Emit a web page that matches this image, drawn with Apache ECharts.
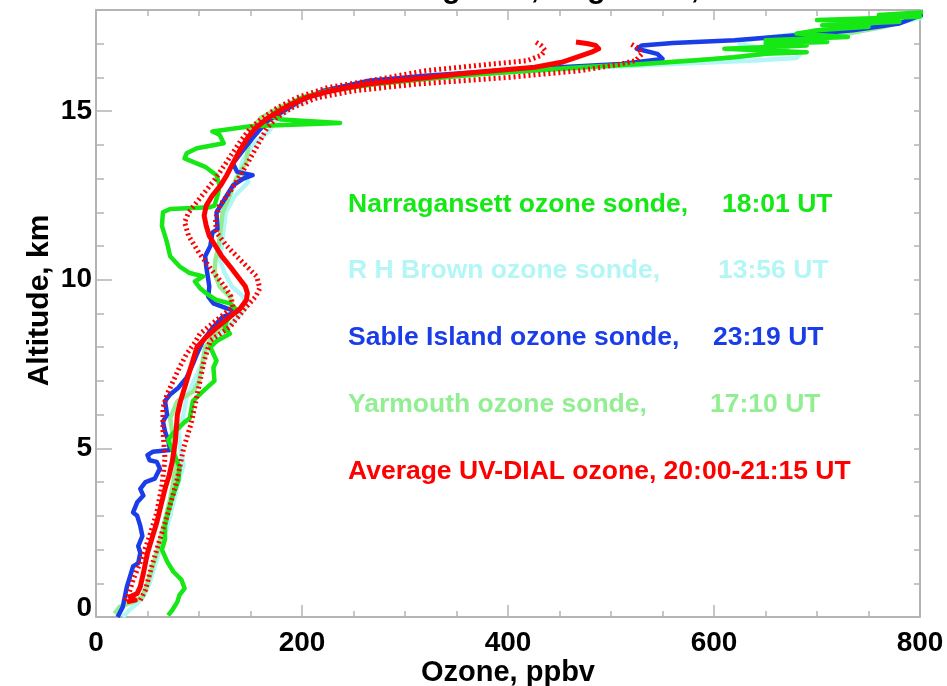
<!DOCTYPE html>
<html>
<head>
<meta charset="utf-8">
<script src="https://cdn.jsdelivr.net/npm/echarts@6/dist/echarts.min.js"></script>
<style>
  html, body { margin: 0; padding: 0; background: #ffffff; }
  #chart { width: 947px; height: 686px; }
</style>
</head>
<body>
<div id="chart"></div>
<script>
// Ozone profiles: altitude (km) and ozone mixing ratio (ppbv) for each sounding

const narragansettKm = [0.05, 0.2, 0.45, 0.65, 0.85, 1.1, 1.35, 1.65, 2.0, 2.3, 2.7, 3.1, 3.55, 4.05, 4.45, 4.75, 5.25, 5.45, 5.75, 5.9, 6.4, 6.7, 7.0, 7.4, 7.6, 8.0, 8.2, 8.4, 8.6, 8.8, 9.1, 9.3, 9.4, 9.6, 9.75, 9.95, 10.1, 10.2, 10.4, 10.7, 11.1, 11.6, 12.0, 12.1, 12.15, 12.2, 12.5, 12.8, 13.1, 13.35, 13.6, 13.75, 13.9, 14.05, 14.3, 14.4, 14.55, 14.65, 14.75, 14.85, 15.0, 15.2, 15.4, 15.6, 15.8, 15.95, 16.1, 16.2, 16.3, 16.4, 16.5, 16.6, 16.7, 16.75, 16.85, 16.95, 17.0, 17.05, 17.1, 17.2, 17.3, 17.4, 17.5, 17.55, 17.65, 17.7, 17.8, 17.85, 17.95];
const narragansettPpbv = [70, 74, 79, 81, 86, 83, 75, 69, 64, 67, 67, 70, 74, 80, 81, 77, 70, 75, 85, 91, 94, 104, 115, 114, 117, 111, 118, 130, 125, 127, 137, 130, 117, 107, 101, 96, 104, 91, 81, 72, 69, 64, 65, 72, 110, 115, 118, 120, 117, 106, 86, 88, 98, 124, 120, 113, 150, 237, 180, 170, 175, 188, 200, 225, 270, 320, 375, 420, 470, 530, 580, 620, 650, 690, 610, 690, 650, 710, 650, 730, 680, 700, 750, 705, 780, 700, 800, 760, 810];

const rhBrownKm = [0.0, 0.2, 0.4, 0.6, 1.0, 1.5, 2.0, 2.5, 3.0, 3.5, 4.0, 4.5, 5.0, 5.5, 6.0, 6.5, 7.0, 7.5, 8.0, 8.5, 8.9, 9.2, 9.5, 9.8, 10.2, 10.6, 11.0, 11.5, 12.0, 12.5, 12.9, 13.2, 13.5, 14.0, 14.4, 14.8, 15.1, 15.4, 15.7, 15.95, 16.1, 16.2, 16.3, 16.4, 16.5, 16.58, 16.7, 16.8, 16.9, 17.0, 17.1, 17.25, 17.45, 17.65, 17.85];
const rhBrownPpbv = [26, 32, 40, 46, 52, 57, 62, 67, 72, 76, 80, 85, 82, 80, 85, 88, 95, 103, 110, 125, 138, 146, 143, 132, 125, 120, 122, 124, 126, 135, 148, 140, 142, 152, 168, 176, 190, 210, 245, 310, 370, 430, 490, 560, 640, 680, 684, 665, 640, 625, 630, 670, 730, 785, 810];

const sableKm = [0.0, 0.3, 0.6, 0.9, 1.2, 1.5, 1.6, 1.9, 2.1, 2.4, 2.7, 3.0, 3.1, 3.4, 3.6, 3.8, 4.0, 4.1, 4.4, 4.6, 4.65, 4.8, 4.9, 4.95, 5.25, 5.5, 5.8, 6.0, 6.4, 6.6, 6.8, 7.1, 7.5, 7.8, 8.2, 8.6, 8.9, 9.05, 9.15, 9.3, 9.5, 9.8, 10.0, 10.4, 10.7, 11.0, 11.4, 11.5, 12.0, 12.3, 12.5, 12.8, 13.0, 13.1, 13.2, 13.45, 13.85, 14.2, 14.7, 15.0, 15.3, 15.6, 15.9, 16.05, 16.2, 16.3, 16.4, 16.55, 16.7, 16.85, 16.95, 17.02, 17.1, 17.25, 17.4, 17.6, 17.9];
const sablePpbv = [21, 26, 28, 30, 33, 36, 41, 43, 41, 45, 43, 40, 36, 40, 46, 43, 48, 57, 62, 59, 52, 50, 55, 72, 70, 67, 65, 69, 67, 72, 80, 88, 94, 98, 104, 114, 123, 137, 127, 114, 109, 110, 109, 107, 106, 111, 113, 118, 117, 123, 127, 133, 143, 152, 137, 133, 143, 152, 166, 182, 198, 220, 265, 320, 390, 450, 510, 550, 545, 525, 530, 560, 620, 680, 735, 780, 805];

const yarmouthKm = [0.1, 0.3, 0.45, 0.6, 1.0, 1.5, 2.0, 2.5, 3.0, 3.5, 4.0, 4.5, 5.0, 5.5, 5.9, 6.4, 6.7, 7.0, 7.5, 8.0, 8.4, 8.8, 9.1, 9.5, 9.8, 10.2, 10.6, 11.0, 11.5, 12.0, 12.5, 13.0, 13.5, 14.0, 14.4, 14.8, 15.1, 15.4, 15.7, 15.95, 16.1, 16.25, 16.4, 16.55, 16.7, 16.8, 16.9, 17.0, 17.1, 17.3, 17.5, 17.75, 18.0];
const yarmouthPpbv = [18, 23, 36, 45, 50, 55, 60, 64, 68, 72, 75, 78, 76, 74, 72, 79, 95, 100, 103, 106, 116, 128, 133, 130, 120, 115, 116, 119, 121, 123, 130, 136, 146, 148, 150, 160, 178, 200, 235, 300, 370, 450, 530, 600, 650, 668, 672, 660, 690, 730, 765, 790, 805];

const dialKm = [0.45, 0.5, 0.6, 0.7, 0.9, 1.3, 1.9, 2.4, 2.8, 3.3, 3.8, 4.2, 4.6, 5.2, 5.6, 6.0, 6.4, 6.8, 7.2, 7.6, 8.0, 8.3, 8.6, 8.9, 9.15, 9.4, 9.6, 9.8, 10.0, 10.4, 10.7, 11.0, 11.3, 11.6, 11.9, 12.2, 12.5, 12.8, 13.1, 13.4, 13.8, 14.2, 14.5, 14.8, 15.0, 15.2, 15.4, 15.6, 15.8, 15.9, 16.0, 16.1, 16.2, 16.3, 16.45, 16.6, 16.75, 16.85, 16.95, 17.0, 17.05];
const dialPpbv = [30, 38, 33, 40, 43, 46, 50, 55, 59, 63, 67, 71, 74, 77, 78, 79, 82, 86, 90, 94, 98, 107, 118, 130, 140, 146, 147, 145, 140, 130, 122, 116, 110, 107, 105, 107, 113, 121, 127, 132, 139, 147, 155, 167, 178, 189, 204, 228, 262, 292, 322, 352, 386, 426, 452, 467, 481, 488, 485, 478, 466];

const dialLowKm = [0.5, 0.6, 0.8, 1.1, 1.7, 2.4, 3.1, 3.9, 4.7, 5.1, 5.5, 6.2, 6.6, 7.0, 7.4, 7.8, 8.1, 8.4, 8.8, 9.0, 9.2, 9.5, 9.8, 10.3, 10.8, 11.3, 11.7, 12.0, 12.5, 13.0, 13.5, 14.1, 14.5, 14.8, 15.1, 15.4, 15.7, 15.95, 16.2, 16.4, 16.5, 16.65, 16.8, 16.95, 17.05];
const dialLowPpbv = [28, 31, 33, 36, 44, 52, 59, 64, 67, 66, 65, 65, 69, 75, 81, 88, 95, 101, 117, 125, 133, 131, 125, 112, 100, 90, 86, 90, 103, 116, 127, 140, 150, 162, 176, 195, 225, 275, 320, 385, 419, 432, 436, 432, 427];

const dialHighKm = [0.5, 0.8, 1.5, 2.3, 3.1, 4.1, 5.0, 5.7, 6.4, 7.0, 7.6, 8.2, 8.6, 9.2, 9.5, 9.75, 10.1, 10.5, 11.0, 11.4, 11.8, 12.2, 12.6, 13.0, 13.5, 14.0, 14.5, 14.8, 15.1, 15.4, 15.6, 15.8, 16.0, 16.2, 16.4, 16.5, 16.7, 16.85, 17.0];
const dialHighPpbv = [43, 48, 54, 62, 70, 79, 85, 92, 97, 101, 105, 111, 130, 146, 155, 159, 156, 143, 127, 117, 116, 120, 130, 138, 148, 157, 166, 175, 190, 215, 250, 310, 400, 470, 510, 524, 530, 527, 519];

// Legend rows: label, observation time, colour
const legendNames = ['Narragansett ozone sonde,', 'R H Brown ozone sonde,', 'Sable Island ozone sonde,', 'Yarmouth ozone sonde,', 'Average UV-DIAL ozone, 20:00-21:15 UT'];
const legendTimes = ['18:01 UT', '13:56 UT', '23:19 UT', '17:10 UT', ''];

const titleText = 'DC-8 Flight 15, August 11, 2004';

const GREEN = '#16e816';
const CYAN = '#b2f6f6';
const BLUE = '#1b3de8';
const LIGHTGREEN = '#92ee92';
const RED = '#ff0000';
const legendColors = [GREEN, CYAN, BLUE, LIGHTGREEN, RED];

const FONT = '"Liberation Sans", Arial, Helvetica, sans-serif';
const AXIS_GRAY = '#b4b4b4';

function pairs(ppbv, km) {
  return ppbv.map(function (v, i) { return [v, km[i]]; });
}

function profile(name, ppbv, km, color, width, dash, z) {
  return {
    name: name,
    type: 'line',
    xAxisIndex: 0,
    yAxisIndex: 0,
    data: pairs(ppbv, km),
    showSymbol: false,
    symbol: 'none',
    clip: true,
    z: z,
    lineStyle: { color: color, width: width, type: dash || 'solid', join: 'round' },
    emphasis: { disabled: true }
  };
}

const legendGraphics = [];
const rowY = [205, 271, 338, 405, 472];
const timeX = [722, 718, 713, 710, 0];
legendNames.forEach(function (name, i) {
  legendGraphics.push({
    type: 'text',
    x: 348, y: rowY[i],
    style: { text: name, fill: legendColors[i], font: 'bold 26.5px ' + FONT, verticalAlign: 'middle', textAlign: 'left' }
  });
  if (legendTimes[i]) {
    legendGraphics.push({
      type: 'text',
      x: timeX[i], y: rowY[i],
      style: { text: legendTimes[i], fill: legendColors[i], font: 'bold 26.5px ' + FONT, verticalAlign: 'middle', textAlign: 'left' }
    });
  }
});
legendGraphics.push({
  type: 'text',
  x: 329, y: -10,
  style: { text: titleText, fill: '#000', font: 'bold 30px ' + FONT, verticalAlign: 'middle', textAlign: 'left' }
});

const tickStyle = { color: AXIS_GRAY, width: 1.5 };
const lineStyleAxis = { color: AXIS_GRAY, width: 2 };

const chart = echarts.init(document.getElementById('chart'), null, { renderer: 'canvas' });
chart.setOption({
  animation: false,
  backgroundColor: '#ffffff',
  grid: { left: 96, right: 27, top: 10, bottom: 69, containLabel: false, outerBoundsMode: 'none' },
  xAxis: [
    {
      type: 'value', position: 'bottom', min: 0, max: 800, interval: 200,
      axisLine: { show: true, onZero: false, lineStyle: lineStyleAxis },
      axisTick: { show: true, inside: true, length: 12, lineStyle: tickStyle },
      minorTick: { show: true, splitNumber: 4, length: 6, lineStyle: tickStyle },
      splitLine: { show: false }, minorSplitLine: { show: false },
      axisLabel: { color: '#000', fontSize: 28, fontWeight: 'bold', fontFamily: FONT, margin: 12 },
      name: 'Ozone, ppbv', nameLocation: 'middle', nameGap: 41, nameMoveOverlap: false,
      nameTextStyle: { color: '#000', fontSize: 29, fontWeight: 'bold', fontFamily: FONT }
    },
    {
      type: 'value', position: 'top', min: 0, max: 800, interval: 200,
      axisLine: { show: true, onZero: false, lineStyle: lineStyleAxis },
      axisTick: { show: true, inside: true, length: 10, lineStyle: tickStyle },
      minorTick: { show: true, splitNumber: 4, length: 6, lineStyle: tickStyle },
      splitLine: { show: false }, minorSplitLine: { show: false },
      axisLabel: { show: false }
    }
  ],
  yAxis: [
    {
      type: 'value', position: 'left', min: 0, max: 18, interval: 5,
      axisLine: { show: true, onZero: false, lineStyle: lineStyleAxis },
      axisTick: { show: true, inside: true, length: 16, lineStyle: tickStyle },
      splitLine: { show: false },
      axisLabel: {
        color: '#000', fontSize: 28, fontWeight: 'bold', fontFamily: FONT, margin: 4,
        showMaxLabel: false,
        formatter: function (v) {
          if (v === 0) return '{z|0}';
          return (v % 5 === 0) ? String(v) : '';
        },
        rich: { z: { color: '#000', fontSize: 28, fontWeight: 'bold', fontFamily: FONT, padding: [0, 0, 18, 0] } }
      },
      name: 'Altitude, km', nameLocation: 'middle', nameGap: 41, nameRotate: 90, nameMoveOverlap: false,
      nameTextStyle: { color: '#000', fontSize: 30, fontWeight: 'bold', fontFamily: FONT, padding: [0, 0, 0, 26] }
    },
    {
      type: 'value', position: 'left', min: 0, max: 18, interval: 1,
      axisLine: { show: false },
      axisTick: { show: true, inside: true, length: 8, lineStyle: tickStyle },
      splitLine: { show: false },
      axisLabel: { show: false }
    },
    {
      type: 'value', position: 'right', min: 0, max: 18, interval: 1,
      axisLine: { show: true, onZero: false, lineStyle: lineStyleAxis },
      axisTick: { show: true, inside: true, length: 6, lineStyle: tickStyle },
      splitLine: { show: false },
      axisLabel: { show: false }
    }
  ],
  series: [
    profile('R H Brown', rhBrownPpbv, rhBrownKm, CYAN, 4.5, 'solid', 2),
    profile('Yarmouth', yarmouthPpbv, yarmouthKm, LIGHTGREEN, 4.5, 'solid', 3),
    profile('Sable Island', sablePpbv, sableKm, BLUE, 4.5, 'solid', 4),
    profile('Narragansett', narragansettPpbv, narragansettKm, GREEN, 4.5, 'solid', 5),
    profile('UV-DIAL low', dialLowPpbv, dialLowKm, RED, 5, [2, 3], 6),
    profile('UV-DIAL high', dialHighPpbv, dialHighKm, RED, 5, [2, 3], 6),
    profile('UV-DIAL average', dialPpbv, dialKm, RED, 5, 'solid', 7)
  ],
  graphic: legendGraphics
});
</script>
</body>
</html>
